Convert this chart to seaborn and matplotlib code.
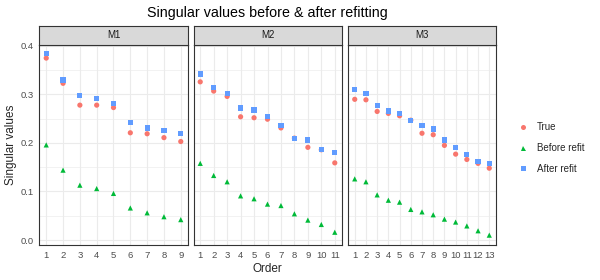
import matplotlib
matplotlib.use("Agg")
import matplotlib.pyplot as plt
import seaborn as sns
import pandas as pd

# singular values, per model
models = ["M1", "M2", "M3"]
series = ["True", "Before refit", "After refit"]

m1_true = [0.375, 0.323, 0.278, 0.278, 0.273, 0.221, 0.219, 0.211, 0.203]
m1_before = [0.196, 0.144, 0.113, 0.106, 0.096, 0.066, 0.056, 0.048, 0.042]
m1_after = [0.385, 0.330, 0.298, 0.291, 0.282, 0.243, 0.231, 0.226, 0.220]

m2_true = [0.326, 0.307, 0.296, 0.254, 0.252, 0.249, 0.231, 0.210, 0.191, 0.186, 0.159]
m2_before = [0.158, 0.133, 0.120, 0.091, 0.085, 0.074, 0.071, 0.054, 0.041, 0.032, 0.016]
m2_after = [0.342, 0.314, 0.302, 0.272, 0.268, 0.255, 0.236, 0.210, 0.206, 0.186, 0.180]

m3_true = [0.290, 0.289, 0.265, 0.261, 0.256, 0.247, 0.220, 0.217, 0.195, 0.177, 0.166, 0.158, 0.148]
m3_before = [0.126, 0.120, 0.093, 0.082, 0.078, 0.063, 0.058, 0.052, 0.043, 0.037, 0.029, 0.019, 0.010]
m3_after = [0.311, 0.302, 0.278, 0.266, 0.260, 0.247, 0.236, 0.229, 0.206, 0.191, 0.177, 0.162, 0.157]

y_ticks = [0.0, 0.1, 0.2, 0.3, 0.4]
y_tick_labels = ["0.0", "0.1", "0.2", "0.3", "0.4"]

data = {
    "M1": [m1_true, m1_before, m1_after],
    "M2": [m2_true, m2_before, m2_after],
    "M3": [m3_true, m3_before, m3_after],
}

rows = []
for model in models:
    for name, vals in zip(series, data[model]):
        for i, v in enumerate(vals):
            rows.append({"model": model, "series": name, "order": i + 1, "value": v})
df = pd.DataFrame(rows)

palette = {"True": "#F8766D", "Before refit": "#00BA38", "After refit": "#619CFF"}
markers = {"True": "o", "Before refit": "^", "After refit": "s"}

sns.set_theme(style="white")
plt.rcParams["font.family"] = ["Liberation Sans", "DejaVu Sans"]

W, H = 600, 280
fig = plt.figure(figsize=(6, 2.8), dpi=100)

panel_left = [39.5, 193.5, 348.0]
panel_w = 148.0
panel_top, panel_bot = 44.5, 245.0
strip_top = 25.5

ymin, ymax = -0.0103, 0.403
axes = []
for k, model in enumerate(models):
    x0 = panel_left[k]
    ax = fig.add_axes([x0 / W, 1 - panel_bot / H, panel_w / W, (panel_bot - panel_top) / H])
    sub = df[df["model"] == model]
    sns.scatterplot(data=sub, x="order", y="value", hue="series", style="series",
                    palette=palette, markers=markers, hue_order=series,
                    style_order=series, s=14, linewidth=0, ax=ax, legend=False,
                    zorder=3)
    n = sub["order"].max()
    pad = (n - 1) * 0.05
    ax.set_xlim(1 - pad, n + pad)
    ax.set_ylim(ymin, ymax)
    ax.set_xticks(range(1, n + 1))
    ax.set_xticks([], minor=True)
    ax.set_yticks(y_ticks)
    ax.set_yticks([0.05, 0.15, 0.25, 0.35], minor=True)
    ax.grid(True, which="major", color="#EBEBEB", linewidth=0.8, zorder=0)
    ax.grid(True, which="minor", axis="y", color="#EBEBEB", linewidth=0.45, zorder=0)
    ax.set_axisbelow(True)
    for sp in ax.spines.values():
        sp.set_color("#333333")
        sp.set_linewidth(0.8)
    ax.tick_params(axis="both", which="major", length=2.5, width=0.6, color="#333333",
                   labelsize=6.8, labelcolor="#4D4D4D", pad=1.5)
    ax.tick_params(axis="both", which="minor", length=0)
    ax.set_xlabel("")
    ax.set_ylabel("")
    if k == 0:
        ax.set_yticklabels(y_tick_labels)
    else:
        ax.set_yticklabels([])
        ax.tick_params(axis="y", length=0)

    # facet strip
    sax = fig.add_axes([x0 / W, 1 - panel_top / H, panel_w / W, (panel_top - strip_top) / H])
    sax.set_facecolor("#D9D9D9")
    sax.set_xticks([])
    sax.set_yticks([])
    for sp in sax.spines.values():
        sp.set_color("#333333")
        sp.set_linewidth(0.8)
    sax.text(0.5, 0.5, model, ha="center", va="center", fontsize=7, color="#1A1A1A",
             transform=sax.transAxes)
    axes.append(ax)

mid_x = (panel_left[0] + panel_left[2] + panel_w) / 2 / W
fig.text(mid_x, 1 - 12.5 / H, "Singular values before & after refitting",
         ha="center", va="center", fontsize=10.3, color="black")
fig.text(mid_x, 1 - 269 / H, "Order", ha="center", va="center", fontsize=8.5)
fig.text(11 / W, 1 - (panel_top + panel_bot) / 2 / H, "Singular values",
         ha="center", va="center", rotation=90, fontsize=8.5)

handles = [plt.Line2D([], [], marker=markers[s], color=palette[s], linestyle="",
                      markersize=3.6, markeredgewidth=0) for s in series]
fig.legend(handles, series, loc="center left", bbox_to_anchor=(508 / W, 1 - 148 / H),
           frameon=False, fontsize=7, handletextpad=0.9, labelspacing=1.1,
           handlelength=1.2)

fig.savefig("out.png", dpi=100)
